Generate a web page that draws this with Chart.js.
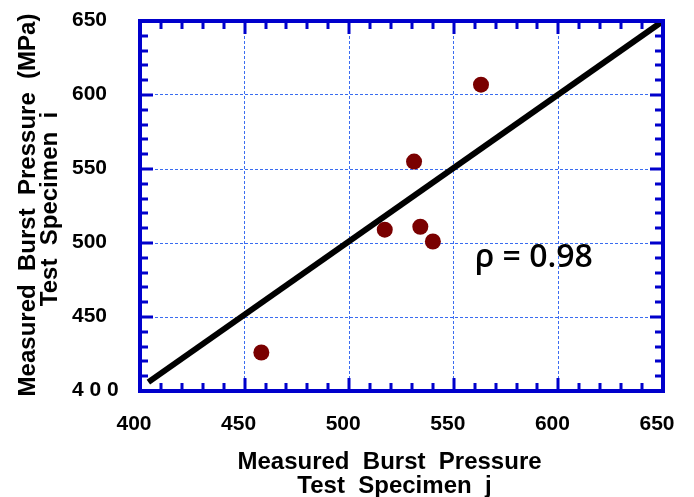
<!DOCTYPE html>
<html>
<head>
<meta charset="utf-8">
<script src="https://cdn.jsdelivr.net/npm/chart.js@4.4.1/dist/chart.umd.min.js"></script>
<style>
  html, body { margin: 0; padding: 0; background: #ffffff; }
  #wrap { width: 694px; height: 497px; }
</style>
</head>
<body>
<div id="wrap"><canvas id="c" width="694" height="497"></canvas></div>
<script>
// ---- data ----
const specimenJ = [458, 517, 531, 534, 540, 563];
const specimenI = [426, 509, 555, 511, 501, 607];
const fitX = [404, 649];
const fitY = [406, 649];
const xTickValues = [400, 450, 500, 550, 600, 650];
const xTickLabels = ['400', '450', '500', '550', '600', '650'];
const yTickValues = [400, 450, 500, 550, 600, 650];
const yTickLabels = ['4 0 0', '450', '500', '550', '600', '650'];
const xTitle = ['Measured  Burst  Pressure', 'Test  Specimen  j'];
const yTitle = ['Measured  Burst  Pressure  (MPa)', 'Test  Specimen  i'];
const rhoText = '\u03C1 = 0.98';
const rhoPos = [560, 484];

const BLUE = '#0000cc';
const TICKFONT = 'bold 21px "Liberation Sans", Arial, sans-serif';
const TITLEFONT = 'bold 24px "Liberation Sans", Arial, sans-serif';

const frame = {
  id: 'frame',
  afterDraw(chart) {
    const ctx = chart.ctx;
    const a = chart.chartArea;
    const xs = chart.scales.x, ys = chart.scales.y;
    ctx.save();
    // rho annotation
    ctx.fillStyle = '#000';
    ctx.font = '600 32px "Open Sans", "Noto Sans", sans-serif';
    ctx.textAlign = 'left';
    ctx.textBaseline = 'alphabetic';
    ctx.fillText(rhoText, xs.getPixelForValue(rhoPos[0]), ys.getPixelForValue(rhoPos[1]));
    // inward ticks
    ctx.strokeStyle = BLUE;
    ctx.lineWidth = 3;
    ctx.lineCap = 'butt';
    xs.ticks.forEach(t => {
      const p = Math.round(xs.getPixelForValue(t.value));
      const L = (t.value % 50 === 0) ? 13 : 8;
      ctx.beginPath();
      ctx.moveTo(p, a.bottom); ctx.lineTo(p, a.bottom - L);
      ctx.moveTo(p, a.top); ctx.lineTo(p, a.top + L);
      ctx.stroke();
    });
    ys.ticks.forEach(t => {
      const p = Math.round(ys.getPixelForValue(t.value));
      const L = (t.value % 50 === 0) ? 13 : 8;
      ctx.beginPath();
      ctx.moveTo(a.left, p); ctx.lineTo(a.left + L, p);
      ctx.moveTo(a.right, p); ctx.lineTo(a.right - L, p);
      ctx.stroke();
    });
    // border
    ctx.lineWidth = 4;
    ctx.strokeRect(a.left, a.top, a.right - a.left, a.bottom - a.top);
    // tick labels
    ctx.fillStyle = '#000';
    ctx.font = TICKFONT;
    ctx.textAlign = 'center';
    ctx.textBaseline = 'middle';
    xTickValues.forEach((v, i) => {
      ctx.fillText(xTickLabels[i], xs.getPixelForValue(v) - 6, a.bottom + 33);
    });
    ctx.textAlign = 'left';
    yTickValues.forEach((v, i) => {
      ctx.fillText(yTickLabels[i], a.left - 68, ys.getPixelForValue(v) - 1);
    });
    // axis titles
    ctx.font = TITLEFONT;
    ctx.textAlign = 'center';
    ctx.textBaseline = 'alphabetic';
    const cx = (a.left + a.right) / 2;
    ctx.fillText(xTitle[0], cx - 12, a.bottom + 78);
    ctx.fillText(xTitle[1], cx - 7, a.bottom + 102);
    const cy = (a.top + a.bottom) / 2;
    ctx.save();
    ctx.translate(35, cy - 1);
    ctx.rotate(-Math.PI / 2);
    ctx.fillText(yTitle[0], 0, 0);
    ctx.restore();
    ctx.save();
    ctx.translate(57, cy + 3);
    ctx.rotate(-Math.PI / 2);
    ctx.fillText(yTitle[1], 0, 0);
    ctx.restore();
    ctx.restore();
  }
};

const gridColor = (c) => {
  const v = c.tick && c.tick.value;
  return (v % 50 === 0 && v !== 400 && v !== 650) ? '#3a6cf0' : 'rgba(0,0,0,0)';
};

new Chart(document.getElementById('c'), {
  type: 'scatter',
  data: {
    datasets: [
      {
        label: 'fit',
        data: fitX.map((x, i) => ({ x, y: fitY[i] })),
        showLine: true,
        borderColor: '#000',
        borderWidth: 6,
        pointRadius: 0,
        order: 2
      },
      {
        label: 'specimens',
        data: specimenJ.map((x, i) => ({ x, y: specimenI[i] })),
        backgroundColor: '#7a0000',
        borderWidth: 0,
        pointRadius: 8,
        order: 1
      }
    ]
  },
  options: {
    responsive: false,
    animation: false,
    events: [],
    layout: { padding: { left: 0, right: 31, top: 21, bottom: 0 } },
    plugins: { legend: { display: false }, tooltip: { enabled: false } },
    scales: {
      x: {
        type: 'linear', min: 400, max: 650,
        ticks: { stepSize: 10, display: false },
        grid: { color: gridColor, lineWidth: 1, drawTicks: false },
        border: { display: false, dash: [3, 2] },
        afterFit: (s) => { s.height = 106; }
      },
      y: {
        type: 'linear', min: 400, max: 650,
        ticks: { stepSize: 10, display: false },
        grid: { color: gridColor, lineWidth: 1, drawTicks: false },
        border: { display: false, dash: [3, 2] },
        afterFit: (s) => { s.width = 140; }
      }
    }
  },
  plugins: [frame]
});
</script>
</body>
</html>
